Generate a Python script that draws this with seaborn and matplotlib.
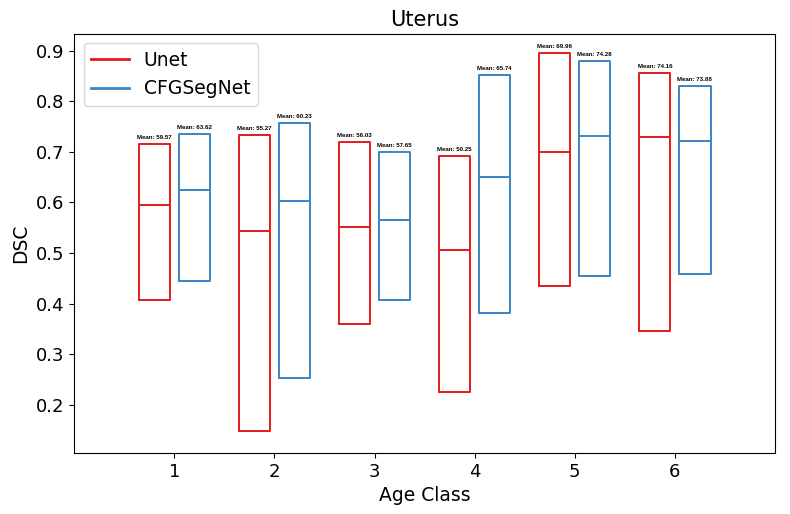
import pandas as pd
import numpy as np
import matplotlib.pyplot as plt
import seaborn as sns
from matplotlib.lines import Line2D

# Данные
age_classes = [1, 2, 3, 4, 5, 6]
models = ['Unet', 'CFGSegNet']

unet_low = [0.407, 0.148, 0.360, 0.225, 0.434, 0.346]
unet_median = [0.594, 0.543, 0.551, 0.506, 0.699, 0.729]
unet_high = [0.716, 0.733, 0.719, 0.692, 0.895, 0.855]
unet_mean = [59.57, 55.27, 56.03, 50.25, 69.96, 74.16]

cfg_low = [0.445, 0.253, 0.408, 0.381, 0.454, 0.459]
cfg_median = [0.625, 0.603, 0.566, 0.650, 0.731, 0.721]
cfg_high = [0.735, 0.757, 0.700, 0.851, 0.879, 0.830]
cfg_mean = [63.62, 60.23, 57.65, 65.74, 74.28, 73.88]

colors = {'Unet': '#e41a1c', 'CFGSegNet': '#3a85c3'}

# Длинная таблица: low, low, median, high, high -> Q1=low, Q3=high
rows = []
for model, lo, md, hi in [('Unet', unet_low, unet_median, unet_high),
                          ('CFGSegNet', cfg_low, cfg_median, cfg_high)]:
    for i, age in enumerate(age_classes):
        for v in [lo[i], lo[i], md[i], hi[i], hi[i]]:
            rows.append({'Age Class': age, 'DSC': v, 'Model': model})
df = pd.DataFrame(rows)

fig, ax = plt.subplots(figsize=(7.9, 5.14), dpi=100)
sns.boxplot(data=df, x='Age Class', y='DSC', hue='Model', hue_order=models,
            palette=colors, native_scale=True, fill=False, width=0.8, gap=0.22,
            whis=0, showcaps=False, showfliers=False, linewidth=1.4,
            whiskerprops={'linewidth': 0}, legend=False, ax=ax)

# Подписи средних значений над ящиками
for age, hi, m in zip(age_classes, unet_high, unet_mean):
    ax.annotate(f'Mean: {m:.2f}', (age - 0.2, hi), xytext=(0, 3), textcoords='offset points',
                ha='center', va='bottom', fontsize=4.4, fontweight='bold', family='Liberation Sans')
for age, hi, m in zip(age_classes, cfg_high, cfg_mean):
    ax.annotate(f'Mean: {m:.2f}', (age + 0.2, hi), xytext=(0, 3), textcoords='offset points',
                ha='center', va='bottom', fontsize=4.4, fontweight='bold', family='Liberation Sans')

ax.set_xlim(0, 7)
ax.set_ylim(0.105, 0.933)
ax.set_xticks(age_classes)
ax.set_xticklabels([str(a) for a in age_classes])
ax.tick_params(labelsize=13)
ax.set_title('Uterus', fontsize=15)
ax.set_xlabel('Age Class', fontsize=13.5)
ax.set_ylabel('DSC', fontsize=13.5)

handles = [Line2D([0], [0], color=colors[m], lw=2) for m in models]
ax.legend(handles, models, loc='upper left', fontsize=13.5)

fig.subplots_adjust(left=0.094, right=0.981, top=0.934, bottom=0.119)
plt.savefig('out.png', dpi=100)
